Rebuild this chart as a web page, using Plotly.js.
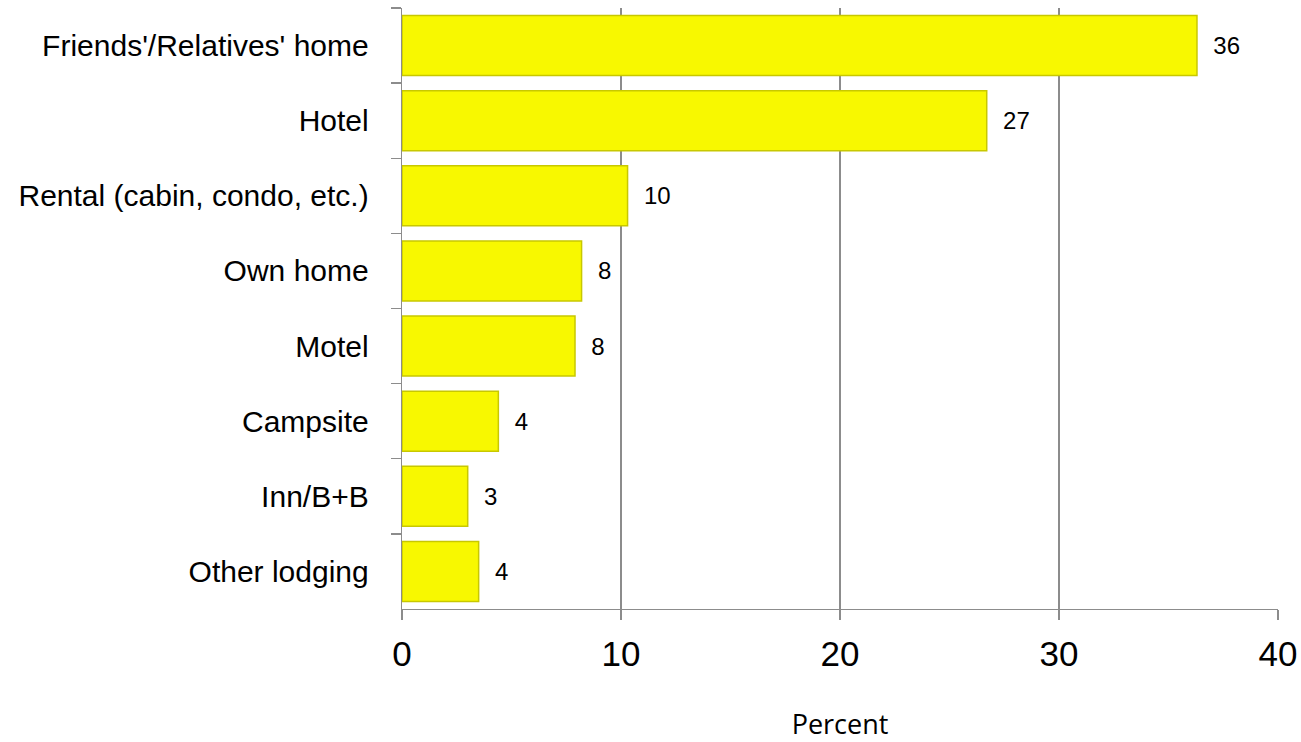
<!DOCTYPE html>
<html><head><meta charset="utf-8">
<script src="https://cdn.plot.ly/plotly-3.0.1.min.js"></script>
<style>html,body{margin:0;padding:0;background:#fff;}#chart{width:1301px;height:742px;}</style>
</head><body><div id="chart"></div>
<script>
const categories = ["Friends'/Relatives' home","Hotel","Rental (cabin, condo, etc.)","Own home","Motel","Campsite","Inn/B+B","Other lodging"];
const values = [36.3, 26.7, 10.3, 8.2, 7.9, 4.4, 3.0, 3.5];
const labels = ["36","27","10","8","8","4","3","4"];
const xTicks = [0,10,20,30,40];

const trace = {
  type:'bar', orientation:'h',
  y: categories, x: values,
  text: labels.map(s => '  ' + s), textposition:'outside', cliponaxis:false,
  textfont:{family:'Liberation Sans, Arial, sans-serif', size:24, color:'#000'},
  marker:{color:'#f8f800', line:{color:'#c8c800', width:1.5}},
  hoverinfo:'none'
};
const layout = {
  width:1301, height:742,
  margin:{l:402, r:23, t:8, b:133},
  paper_bgcolor:'#fff', plot_bgcolor:'#fff',
  showlegend:false, bargap:0.2,
  xaxis:{range:[0,40], tickvals:xTicks, ticktext:xTicks.map(String),
    showgrid:true, gridcolor:'#8c8c8c', gridwidth:1.3, zeroline:false,
    showline:true, linecolor:'#8c8c8c', linewidth:1.3,
    ticks:'outside', ticklen:10, tickcolor:'#8c8c8c', tickwidth:1.3,
    ticklabelstandoff:4,
    tickfont:{family:'Liberation Sans, Arial, sans-serif', size:35, color:'#000'},
    title:{text:'Percent', font:{family:'Open Sans, sans-serif', size:27, color:'#000'}, standoff:45}
  },
  yaxis:{type:'category', autorange:'reversed', showgrid:false, zeroline:false,
    showline:true, linecolor:'#8c8c8c', linewidth:1.3,
    ticks:'outside', ticklen:10, tickcolor:'#8c8c8c', tickwidth:1.3, tickson:'boundaries',
    ticklabelstandoff:26,
    tickfont:{family:'Liberation Sans, Arial, sans-serif', size:30, color:'#000'}
  }
};
Plotly.newPlot('chart',[trace],layout,{displayModeBar:false, staticPlot:true});
</script></body></html>
